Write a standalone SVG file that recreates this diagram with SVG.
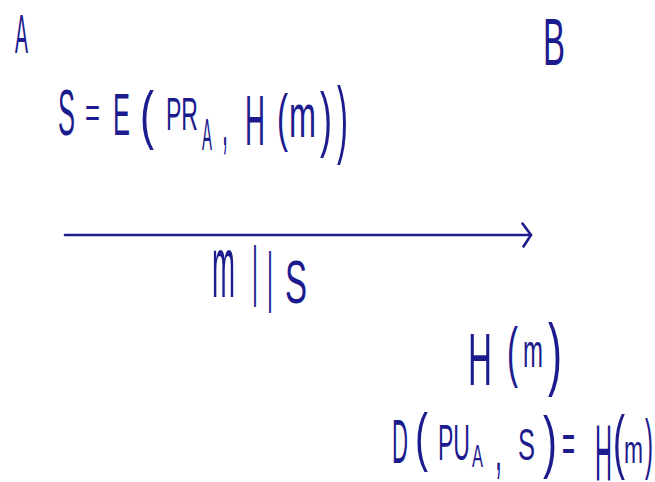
<svg xmlns="http://www.w3.org/2000/svg" width="655" height="482" viewBox="0 0 655 482">
<style>
text{font-family:"Liberation Sans","DejaVu Sans",sans-serif;fill:#1c1c8e;}
.c{stroke:#1c1c8e;stroke-width:2.6;fill:none;stroke-linecap:round;stroke-linejoin:round;}
</style>
<defs>
<marker id="ah" viewBox="0 0 12 26" refX="10" refY="13" markerWidth="12" markerHeight="26" markerUnits="userSpaceOnUse" orient="auto">
<polyline points="1.5,1.5 10,13 2.5,24.5" fill="none" stroke="#1c1c8e" stroke-width="2.6" stroke-linecap="round" stroke-linejoin="round"/>
</marker>
</defs>
<rect width="655" height="482" fill="#ffffff"/>
<g id="nodeA"><text x="15" y="53" font-size="56" textLength="13" lengthAdjust="spacingAndGlyphs">A</text></g>
<g id="nodeB"><text x="543" y="65" font-size="67" textLength="22" lengthAdjust="spacingAndGlyphs">B</text></g>
<g id="sign">
<text x="58" y="135" font-size="64" textLength="17" lengthAdjust="spacingAndGlyphs">S</text>
<text x="85" y="126.5" font-size="43" textLength="15" lengthAdjust="spacingAndGlyphs">=</text>
<text x="113" y="135" font-size="59" textLength="17" lengthAdjust="spacingAndGlyphs">E</text>
<text x="140" y="136.5" font-size="64" textLength="14" lengthAdjust="spacingAndGlyphs">(</text>
<text x="166" y="130" font-size="46" textLength="32" lengthAdjust="spacingAndGlyphs">PR</text>
<text x="202" y="150" font-size="45" textLength="10" lengthAdjust="spacingAndGlyphs">A</text>
<text x="222" y="144.5" font-size="72" textLength="6" lengthAdjust="spacingAndGlyphs">,</text>
<text x="245" y="145" font-size="70" textLength="20" lengthAdjust="spacingAndGlyphs">H</text>
<text x="277" y="139" font-size="63" textLength="11" lengthAdjust="spacingAndGlyphs">(</text>
<text x="289" y="137" font-size="62" textLength="27" lengthAdjust="spacingAndGlyphs">m</text>
<text x="320" y="143" font-size="72" textLength="12" lengthAdjust="spacingAndGlyphs">)</text>
<text x="337" y="147" font-size="85" textLength="11" lengthAdjust="spacingAndGlyphs">)</text>
</g>
<g id="connectors">
<line class="c" x1="65" y1="235" x2="531" y2="235" marker-end="url(#ah)"/>
</g>
<g id="msg">
<text x="212" y="297" font-size="87" textLength="23" lengthAdjust="spacingAndGlyphs">m</text>
<text x="252" y="293" font-size="66" textLength="6" lengthAdjust="spacingAndGlyphs">|</text>
<text x="267" y="299" font-size="66" textLength="6" lengthAdjust="spacingAndGlyphs">|</text>
<text x="285" y="303" font-size="62" textLength="22" lengthAdjust="spacingAndGlyphs">S</text>
</g>
<g id="hash">
<text x="468" y="385" font-size="74" textLength="24" lengthAdjust="spacingAndGlyphs">H</text>
<text x="507" y="374" font-size="67" textLength="11" lengthAdjust="spacingAndGlyphs">(</text>
<text x="523" y="367" font-size="46" textLength="20" lengthAdjust="spacingAndGlyphs">m</text>
<text x="548" y="380" font-size="80" textLength="14" lengthAdjust="spacingAndGlyphs">)</text>
</g>
<g id="verify">
<text x="392" y="463" font-size="63" textLength="16" lengthAdjust="spacingAndGlyphs">D</text>
<text x="415" y="458.5" font-size="64" textLength="13" lengthAdjust="spacingAndGlyphs">(</text>
<text x="438" y="460" font-size="50" textLength="32" lengthAdjust="spacingAndGlyphs">PU</text>
<text x="472" y="467" font-size="31" textLength="11" lengthAdjust="spacingAndGlyphs">A</text>
<text x="495" y="470" font-size="68" textLength="7" lengthAdjust="spacingAndGlyphs">,</text>
<text x="518" y="460" font-size="45" textLength="17" lengthAdjust="spacingAndGlyphs">S</text>
<text x="543" y="465" font-size="69" textLength="14" lengthAdjust="spacingAndGlyphs">)</text>
<text x="562" y="462" font-size="55" textLength="13" lengthAdjust="spacingAndGlyphs">=</text>
<text x="595" y="480" font-size="80" textLength="17" lengthAdjust="spacingAndGlyphs">H</text>
<text x="613" y="465" font-size="71" textLength="12" lengthAdjust="spacingAndGlyphs">(</text>
<text x="624" y="463" font-size="39" textLength="19" lengthAdjust="spacingAndGlyphs">m</text>
<text x="645" y="466" font-size="67" textLength="8" lengthAdjust="spacingAndGlyphs">)</text>
</g>
</svg>
